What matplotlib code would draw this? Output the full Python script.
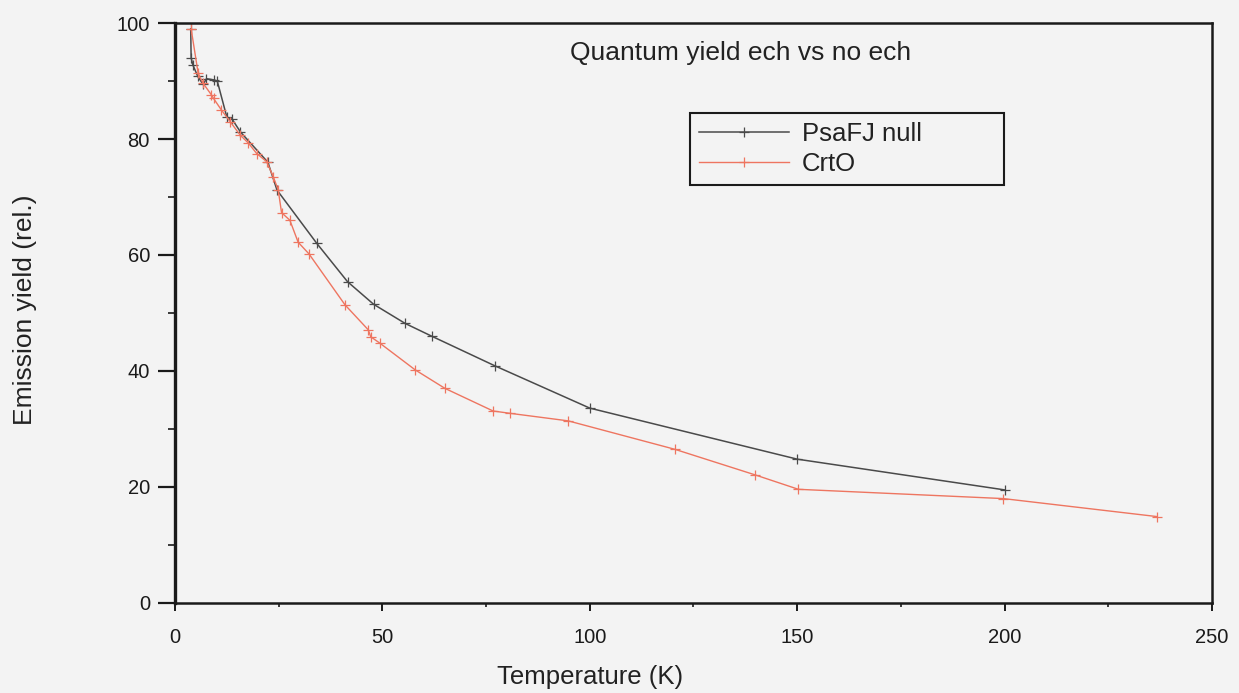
import matplotlib
matplotlib.use("Agg")
import matplotlib.pyplot as plt
from matplotlib.ticker import MultipleLocator

# Temperature dependence of the relative emission yield
temp_psafj = [3.8, 3.9, 4.3, 5.5, 6.8, 7.6, 9.4, 10.2, 12.5, 13.8, 15.8, 22.4,
              24.6, 34.2, 41.6, 47.9, 55.5, 61.9, 77.1, 100.0, 150.0, 200.0]
yield_psafj = [99.0, 94.0, 92.8, 90.8, 89.4, 90.4, 90.2, 90.0, 83.8, 83.4, 81.2,
               76.0, 71.2, 62.0, 55.4, 51.5, 48.2, 46.0, 40.9, 33.6, 24.8, 19.5]

temp_crto = [3.9, 5.6, 6.8, 8.8, 9.3, 11.2, 13.3, 15.7, 17.7, 19.7, 22.1, 23.7,
             24.9, 25.7, 27.7, 29.7, 32.3, 41.0, 46.6, 47.2, 49.4, 57.9, 65.1,
             76.7, 80.8, 94.8, 120.5, 139.8, 150.3, 199.7, 236.7]
yield_crto = [99.0, 91.3, 89.6, 87.6, 87.0, 85.0, 83.0, 80.7, 79.3, 77.5, 76.1,
              73.5, 71.2, 67.3, 66.0, 62.2, 60.2, 51.4, 47.1, 45.9, 44.8, 40.2,
              37.0, 33.1, 32.7, 31.4, 26.5, 22.1, 19.6, 18.0, 14.9]

series_labels = ["PsaFJ null", "CrtO"]
title_text = "Quantum yield ech vs no ech"
x_label = "Temperature (K)"
y_label = "Emission yield (rel.)"

bg = "#f3f3f3"
plt.rcParams["font.family"] = ["Liberation Sans", "DejaVu Sans"]

fig = plt.figure(figsize=(12.39, 6.93), dpi=100, facecolor=bg)
ax = fig.add_axes([0.1412, 0.1299, 0.8370, 0.8369], facecolor=bg)

ax.plot(temp_psafj, yield_psafj, color="#4a4a4a", lw=1.1, marker="+",
        ms=7, mew=0.9, label=series_labels[0])
ax.plot(temp_crto, yield_crto, color="#ee7560", lw=1.0, marker="+",
        ms=7, mew=0.9, label=series_labels[1])

ax.set_xlim(0, 250)
ax.set_ylim(0, 100)
ax.xaxis.set_major_locator(MultipleLocator(50))
ax.xaxis.set_minor_locator(MultipleLocator(25))
ax.yaxis.set_major_locator(MultipleLocator(20))
ax.yaxis.set_minor_locator(MultipleLocator(10))

for side, w in (("left", 2.4), ("bottom", 1.8), ("top", 1.8), ("right", 1.8)):
    ax.spines[side].set_linewidth(w)
    ax.spines[side].set_color("#1a1a1a")

ax.tick_params(axis="y", which="major", direction="out", length=12, width=1.6,
               pad=6, labelsize=14.5, colors="#1a1a1a")
ax.tick_params(axis="y", which="minor", direction="out", length=5, width=1.2,
               colors="#1a1a1a")
ax.tick_params(axis="x", which="major", direction="out", length=6, width=1.4,
               pad=12, labelsize=14.5, colors="#1a1a1a")
ax.tick_params(axis="x", which="minor", direction="out", length=3, width=1.2,
               colors="#1a1a1a")

ax.text(0.545, 0.948, title_text, transform=ax.transAxes, ha="center",
        va="center", fontsize=19, color="#222222")

fig.text(590 / 1239, 1 - 677 / 693, x_label, ha="center", va="center",
         fontsize=18.5, color="#222222")
fig.text(25 / 1239, 1 - 310 / 693, y_label, ha="center", va="center",
         rotation=90, fontsize=19, color="#222222")

# legend box spans a fixed width inside the axes
leg = ax.legend(loc="upper left", bbox_to_anchor=(0.4966, 0.5, 0.3028, 0.345),
                mode="expand", fontsize=18.5, numpoints=1, handlelength=3.5,
                handletextpad=0.5, borderpad=0.35, labelspacing=0.25,
                fancybox=False, framealpha=1.0, facecolor=bg,
                edgecolor="#1a1a1a", borderaxespad=0)
leg.get_frame().set_linewidth(1.5)
for t in leg.get_texts():
    t.set_color("#222222")

fig.savefig("out.png", dpi=100, facecolor=bg)
